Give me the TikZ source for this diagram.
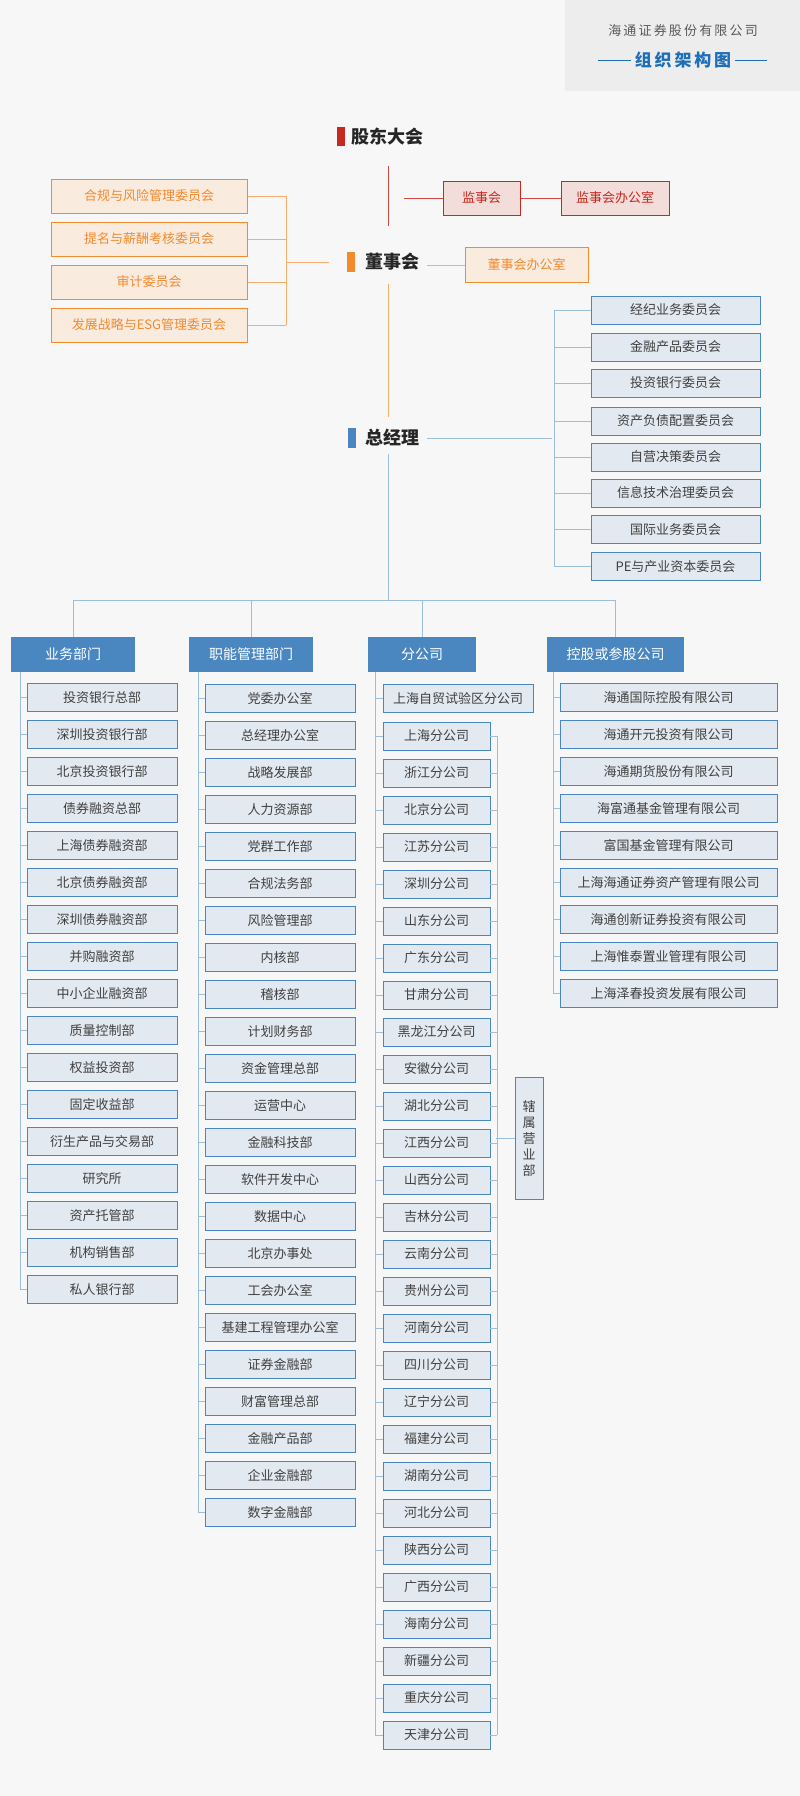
\documentclass[tikz,border=0pt]{standalone}
\usepackage{fontspec}
\setmainfont{Noto Sans CJK SC}
\usepackage{tikz}
\usetikzlibrary{positioning}
\definecolor{bg}{HTML}{F7F7F7}
\definecolor{hdbg}{HTML}{EDEDED}
\definecolor{orng}{HTML}{F28A2E}
\definecolor{ofill}{HTML}{FAEBDF}
\definecolor{redc}{HTML}{C8281E}
\definecolor{rfill}{HTML}{F2DDDB}
\definecolor{bbord}{HTML}{4A86C0}
\definecolor{bfill}{HTML}{E3E9F0}
\definecolor{blink}{HTML}{9CBEDD}
\definecolor{ttl}{HTML}{1E6FB8}
\tikzset{
  obox/.style={draw=orng,fill=ofill,text=orng,line width=1pt,minimum width=196,minimum height=34,inner sep=0,font=\fontsize{13}{13}\selectfont},
  rbox/.style={draw=redc,fill=rfill,text=redc,line width=1pt,minimum height=34,inner sep=0,font=\fontsize{13}{13}\selectfont},
  subbox/.style={draw=bbord,fill=bfill,text=black!75,line width=0.8pt,minimum height=28,inner sep=0,font=\fontsize{13}{13}\selectfont},
  headbox/.style={fill=bbord,text=white,minimum height=35,inner sep=0,font=\fontsize{14}{14}\selectfont},
  lvl/.style={text=black!85,inner sep=0,font=\fontsize{18}{18}\selectfont\bfseries},
  link/.style={draw=blink,line width=1pt},
  olink/.style={draw=orng!70,line width=1pt},
  rlink/.style={draw=redc!85,line width=1pt}
}
\begin{document}
\begin{tikzpicture}[x=1pt,y=-1pt]
\fill[bg] (0,0) rectangle (800,1796);
\useasboundingbox (0,0) rectangle (800,1796);
% title block
\fill[hdbg] (565,0) rectangle (800,91);
\node[text=black!65,font=\fontsize{13}{13}\selectfont] (corp) at (683,31) {海\,通\,证\,券\,股\,份\,有\,限\,公\,司};
\node[text=ttl,font=\fontsize{17}{17}\selectfont\bfseries] (chart) at (683,60) {组\,织\,架\,构\,图};
\draw[ttl,line width=0.8pt] (598,60) -- (chart.west);
\draw[ttl,line width=0.8pt] (chart.east) -- (767,60);

% top levels
\node[lvl] (gd) at (387,137) {股东大会};
\fill[redc] (337,127) rectangle (345,146);
\node[lvl] (dsh) at (392,262) {董事会};
\fill[orng] (347,252) rectangle (355,272);
\node[lvl] (zjl) at (392,438) {总经理};
\fill[bbord] (348,428) rectangle (356,448);

% supervisory board
\node[rbox,minimum width=77] (jsh) at (481.5,198) {监事会};
\node[rbox,minimum width=108] (jsho) at (615,198) {监事会办公室};
\draw[rlink] (388,166) -- (388,226);
\draw[rlink] (jsh.west) -- ++(-39,0);
\draw[rlink] (jsh) -- (jsho);

% board committees
\foreach [count=\i] \t/\y in {合规与风险管理委员会/196,提名与薪酬考核委员会/239,审计委员会/282,发展战略与ESG管理委员会/325} {
  \node[obox] (bc\i) at (149,\y) {\t};
  \draw[olink] (bc\i.east) -- (286,\y);
}
\draw[olink] (286,196) -- (286,325);
\draw[olink] (286,262) -- (329,262);
\node[obox,minimum width=123,minimum height=35] (dsho) at (526.5,265) {董事会办公室};
\draw[olink] (427,265) -- (dsho.west);
\draw[olink] (388,284) -- (388,417);

% management committees
\foreach [count=\i] \t/\y in {经纪业务委员会/310,金融产品委员会/347,投资银行委员会/383,资产负债配置委员会/421,自营决策委员会/457,信息技术治理委员会/493,国际业务委员会/529.5,PE与产业资本委员会/566.5} {
  \node[subbox,minimum width=169] (mc\i) at (675.5,\y) {\t};
  \draw[link] (554,\y) -- (mc\i.west);
}
\draw[link] (554,310) -- (554,566.5);
\draw[link] (427,438) -- (552,438);

% divisions
\coordinate (bus) at (388,600);
\draw[link] (388,454) -- (bus);
\draw[link] (73,600) -- (616,600);
\node[headbox,minimum width=124] (hy) at (73,654.5) {业务部门};
\node[headbox,minimum width=124] (hz) at (251,654.5) {职能管理部门};
\node[headbox,minimum width=108] (hf) at (422,654.5) {分公司};
\node[headbox,minimum width=137] (hk) at (615.5,654.5) {控股或参股公司};
\foreach \h in {hy,hz,hf,hk} \draw[link] (\h.north) -- (\h.north |- bus);

% business departments
\foreach [count=\i] \t in {投资银行总部,深圳投资银行部,北京投资银行部,债券融资总部,上海债券融资部,北京债券融资部,深圳债券融资部,并购融资部,中小企业融资部,质量控制部,权益投资部,固定收益部,衍生产品与交易部,研究所,资产托管部,机构销售部,私人银行部} {
  \node[subbox,minimum width=150] (yw\i) at (102,{697.5+(\i-1)*37}) {\t};
  \draw[link] ([xshift=-7pt]yw\i.west) -- (yw\i.west);
}
\draw[link] (20,672) |- ([xshift=-7pt]yw17.west);

% functional departments
\foreach [count=\i] \t in {党委办公室,总经理办公室,战略发展部,人力资源部,党群工作部,合规法务部,风险管理部,内核部,稽核部,计划财务部,资金管理总部,运营中心,金融科技部,软件开发中心,数据中心,北京办事处,工会办公室,基建工程管理办公室,证券金融部,财富管理总部,金融产品部,企业金融部,数字金融部} {
  \node[subbox,minimum width=150] (zn\i) at (280,{698.5+(\i-1)*37}) {\t};
  \draw[link] ([xshift=-7pt]zn\i.west) -- (zn\i.west);
}
\draw[link] (198,672) |- ([xshift=-7pt]zn23.west);

% branches
\node[subbox,minimum width=150] (ftz) at (458,698.5) {上海自贸试验区分公司};
\draw[link] ([xshift=-8pt]ftz.west) -- (ftz.west);
\foreach [count=\i] \t in {上海分公司,浙江分公司,北京分公司,江苏分公司,深圳分公司,山东分公司,广东分公司,甘肃分公司,黑龙江分公司,安徽分公司,湖北分公司,江西分公司,山西分公司,吉林分公司,云南分公司,贵州分公司,河南分公司,四川分公司,辽宁分公司,福建分公司,湖南分公司,河北分公司,陕西分公司,广西分公司,海南分公司,新疆分公司,重庆分公司,天津分公司} {
  \node[subbox,minimum width=107] (fg\i) at (436.5,{736+(\i-1)*37}) {\t};
  \draw[link] ([xshift=-8pt]fg\i.west) -- (fg\i.west);
  \draw[link] (fg\i.east) -- ([xshift=7pt]fg\i.east);
}
\draw[link] (375,672) |- ([xshift=-8pt]fg28.west);
\draw[link] ([xshift=7pt]fg1.east) -- ([xshift=7pt]fg28.east);
\node[subbox,minimum width=28,minimum height=122,align=center] (yyb) at (529,1138) {辖\\[3pt]属\\[3pt]营\\[3pt]业\\[3pt]部};
\draw[link] (yyb.west) -- ++(-19,0);

% holdings
\foreach [count=\i] \t in {海通国际控股有限公司,海通开元投资有限公司,海通期货股份有限公司,海富通基金管理有限公司,富国基金管理有限公司,上海海通证券资产管理有限公司,海通创新证券投资有限公司,上海惟泰置业管理有限公司,上海泽春投资发展有限公司} {
  \node[subbox,minimum width=217] (kg\i) at (668.5,{697.5+(\i-1)*37}) {\t};
  \draw[link] ([xshift=-7pt]kg\i.west) -- (kg\i.west);
}
\draw[link] (553,672) |- ([xshift=-7pt]kg9.west);
\end{tikzpicture}
\end{document}
